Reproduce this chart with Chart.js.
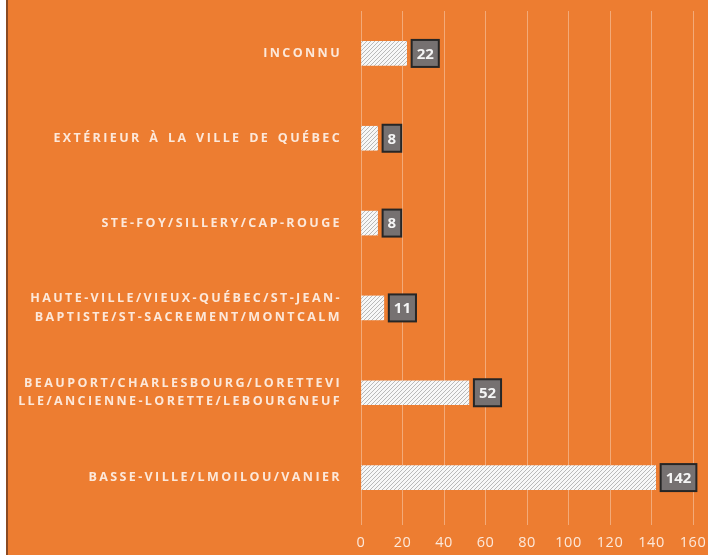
<!DOCTYPE html>
<html>
<head>
<meta charset="utf-8">
<script src="https://cdn.jsdelivr.net/npm/chart.js@4"></script>
<style>
html,body{margin:0;padding:0;background:#fff;}
#wrap{position:absolute;left:0;top:0;width:708px;height:555px;}
</style>
</head>
<body>
<div id="wrap"><canvas id="c" width="708" height="555"></canvas></div>
<script>
const categories = [
  "INCONNU",
  "EXTÉRIEUR À LA VILLE DE QUÉBEC",
  "STE-FOY/SILLERY/CAP-ROUGE",
  ["HAUTE-VILLE/VIEUX-QUÉBEC/ST-JEAN-", "BAPTISTE/ST-SACREMENT/MONTCALM"],
  ["BEAUPORT/CHARLESBOURG/LORETTEVI", "LLE/ANCIENNE-LORETTE/LEBOURGNEUF"],
  "BASSE-VILLE/LMOILOU/VANIER"
];
const values = [22, 8, 8, 11, 52, 142];
const xTicks = [0, 20, 40, 60, 80, 100, 120, 140, 160];

const ORANGE = '#ED7D31';
const LIGHT = '#FCE8DA';

function makeHatch() {
  const t = document.createElement('canvas');
  t.width = 4; t.height = 4;
  const g = t.getContext('2d');
  g.fillStyle = '#F7F7F7';
  g.fillRect(0, 0, 4, 4);
  g.strokeStyle = '#B9B9B9';
  g.lineWidth = 1;
  g.beginPath();
  g.moveTo(0, 4); g.lineTo(4, 0);
  g.moveTo(-1, 1); g.lineTo(1, -1);
  g.moveTo(3, 5); g.lineTo(5, 3);
  g.stroke();
  return document.getElementById('c').getContext('2d').createPattern(t, 'repeat');
}

const bgPlugin = {
  id: 'bg',
  beforeDraw(chart) {
    const ctx = chart.ctx;
    ctx.save();
    ctx.fillStyle = ORANGE;
    ctx.fillRect(0, 0, chart.width, chart.height);
    ctx.fillStyle = '#FFFFFF';
    ctx.fillRect(0, 0, 6, chart.height);
    ctx.fillStyle = '#8A4A22';
    ctx.fillRect(6, 0, 2, chart.height);
    ctx.restore();
  }
};

const spacingPlugin = {
  id: 'spacing',
  afterLayout(chart) {
    const y = chart.scales.y;
    if (y && !y._patched) {
      const orig = y.drawLabels;
      y.drawLabels = function (a) {
        const ctx = this.ctx;
        ctx.save();
        ctx.letterSpacing = '2.4px';
        ctx.wordSpacing = '2px';
        orig.call(this, a);
        ctx.restore();
      };
      y._patched = true;
    }
    const x = chart.scales.x;
    if (x && !x._patched) {
      const origX = x.drawLabels;
      x.drawLabels = function (a) {
        const ctx = this.ctx;
        ctx.save();
        ctx.letterSpacing = '0.5px';
        origX.call(this, a);
        ctx.restore();
      };
      x._patched = true;
    }
  }
};

const labelPlugin = {
  id: 'vlabels',
  afterDatasetsDraw(chart) {
    const ctx = chart.ctx;
    const meta = chart.getDatasetMeta(0);
    ctx.save();
    ctx.font = 'bold 15px "Open Sans", sans-serif';
    meta.data.forEach((bar, i) => {
      const txt = String(values[i]);
      const w = ctx.measureText(txt).width + 10;
      const h = 27;
      const x0 = bar.x + 5;
      const y0 = bar.y - h / 2;
      ctx.fillStyle = '#767171';
      ctx.fillRect(x0, y0, w, h);
      ctx.lineWidth = 2;
      ctx.strokeStyle = '#262626';
      ctx.strokeRect(x0, y0, w, h);
      ctx.fillStyle = '#F5F5F5';
      ctx.textAlign = 'center';
      ctx.textBaseline = 'middle';
      ctx.fillText(txt, x0 + w / 2, bar.y + 1);
    });
    ctx.restore();
  }
};

new Chart(document.getElementById('c'), {
  type: 'bar',
  data: {
    labels: categories,
    datasets: [{
      data: values,
      backgroundColor: makeHatch(),
      borderWidth: 0,
      barThickness: 24
    }]
  },
  options: {
    indexAxis: 'y',
    responsive: false,
    animation: false,
    layout: { padding: { top: 11, right: 15, left: 0, bottom: 0 } },
    plugins: { legend: { display: false }, tooltip: { enabled: false } },
    scales: {
      x: {
        min: 0, max: 160,
        afterBuildTicks(s) { s.ticks = xTicks.map(v => ({ value: v })); },
        afterFit(s) { s.height = 35; s.paddingLeft = 0; s.paddingRight = 0; },
        grid: { color: 'rgba(255,255,255,0.35)', lineWidth: 1, tickLength: 5, drawTicks: true },
        border: { display: false },
        ticks: { color: LIGHT, font: { family: '"Open Sans", sans-serif', size: 14.5 }, padding: 9, maxRotation: 0 }
      },
      y: {
        afterFit(s) { s.width = 361; s.paddingTop = 0; s.paddingBottom = 0; },
        grid: { display: false, drawTicks: false },
        border: { display: false },
        ticks: { color: LIGHT, font: { family: '"Open Sans", sans-serif', size: 12.5, weight: 'bold', lineHeight: 1.45 }, padding: 19 }
      }
    }
  },
  plugins: [bgPlugin, spacingPlugin, labelPlugin]
});
</script>
</body>
</html>
